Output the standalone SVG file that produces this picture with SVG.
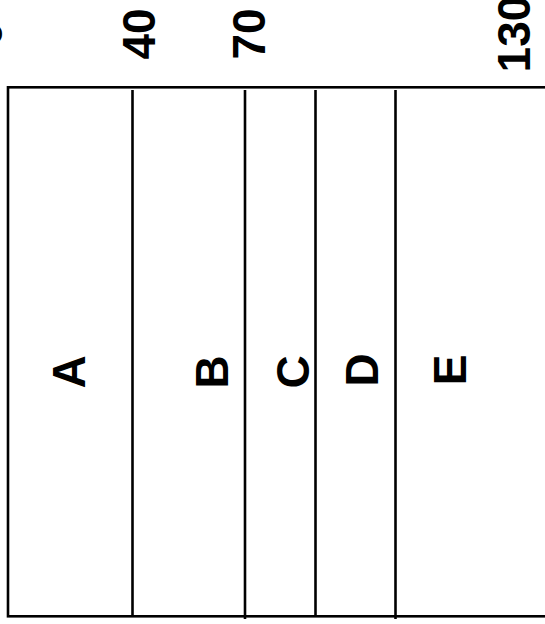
<svg xmlns="http://www.w3.org/2000/svg" width="545" height="624" viewBox="0 0 545 624">
<style>
.t{font-family:"Liberation Sans",Arial,sans-serif;font-weight:bold;font-size:46px;fill:#000;text-anchor:middle}
.l{stroke:#000;stroke-width:2.6;fill:none}
</style>
<rect width="545" height="624" fill="#fff"/>
<g id="axis">
<text class="t" transform="translate(2,34) rotate(-90)">0</text>
<text class="t" transform="translate(155,34) rotate(-90)">40</text>
<text class="t" transform="translate(265,34) rotate(-90)">70</text>
<text class="t" transform="translate(530,34) rotate(-90)">130</text>
</g>
<g id="frame">
<rect class="l" x="8" y="87.3" width="560" height="529" stroke-width="2.4"/>
</g>
<g id="connectors">
<line class="l" x1="132.5" y1="90" x2="132.5" y2="617"/>
<line class="l" x1="245" y1="90" x2="245" y2="619"/>
<line class="l" x1="315.5" y1="90" x2="315.5" y2="617"/>
<line class="l" x1="395.5" y1="90" x2="395.5" y2="619"/>
</g>
<g id="A"><text class="t" transform="translate(85,372) rotate(-90)">A</text></g>
<g id="B"><text class="t" transform="translate(228,372) rotate(-90)">B</text></g>
<g id="C"><text class="t" transform="translate(309,372) rotate(-90)">C</text></g>
<g id="D"><text class="t" transform="translate(378,370) rotate(-90)">D</text></g>
<g id="E"><text class="t" transform="translate(466,370) rotate(-90)">E</text></g>
</svg>
